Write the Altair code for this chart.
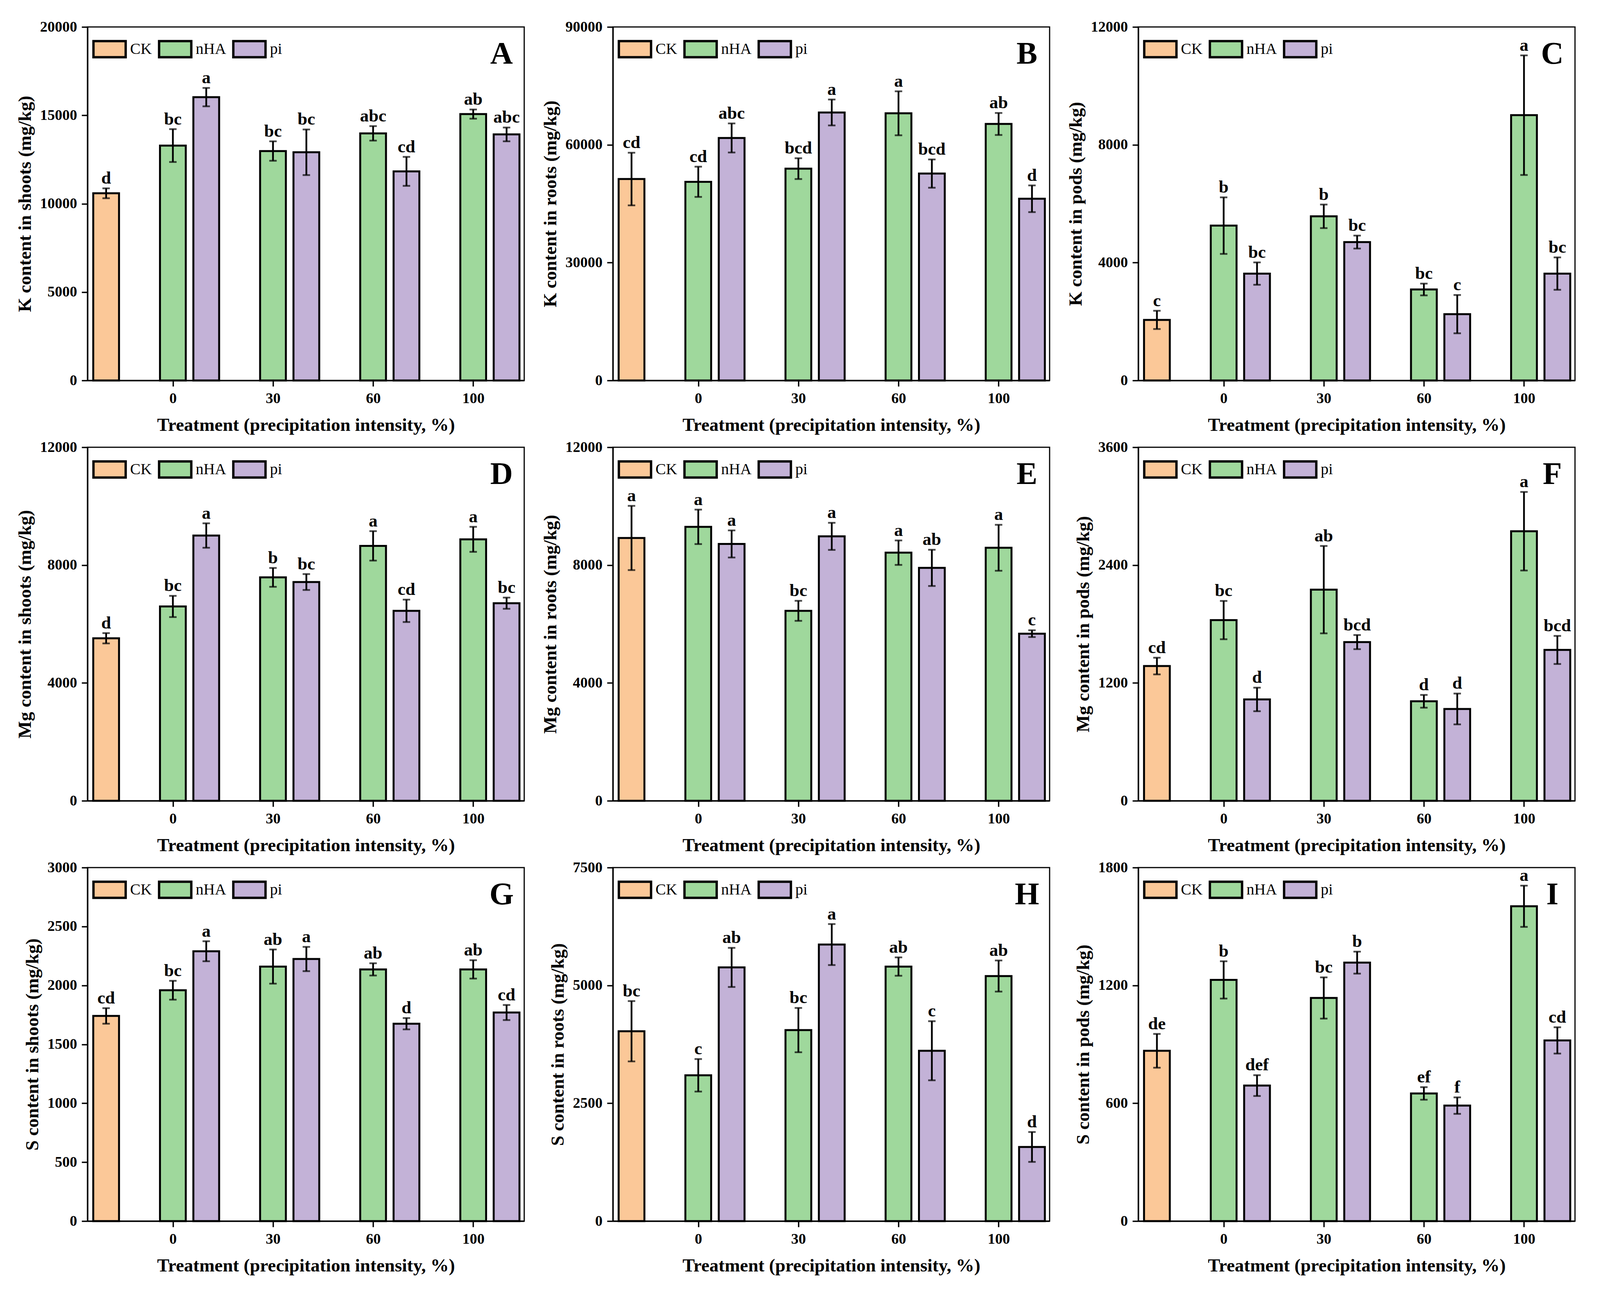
import altair as alt
import pandas as pd

series = ["CK", "nHA", "pi"]
colors = ["#FBC898", "#9FD89C", "#C3B2D7"]
groups = ["0", "30", "60", "100"]
x_title = "Treatment (precipitation intensity, %)"

letters_panel = ["A", "B", "C", "D", "E", "F", "G", "H", "I"]
y_titles = [
    "K content in shoots (mg/kg)", "K content in roots (mg/kg)", "K content in pods (mg/kg)",
    "Mg content in shoots (mg/kg)", "Mg content in roots (mg/kg)", "Mg content in pods (mg/kg)",
    "S content in shoots (mg/kg)", "S content in roots (mg/kg)", "S content in pods (mg/kg)",
]
y_max = [20000, 90000, 12000, 12000, 12000, 3600, 3000, 7500, 1800]
y_step = [5000, 30000, 4000, 4000, 4000, 1200, 500, 2500, 600]

# CK mean / error
ck_mean = [10590, 51280, 2056, 5517, 8921, 1372, 1741, 4028, 867]
ck_err = [280, 6700, 310, 175, 1090, 85, 66, 640, 86]
ck_sig = ["d", "cd", "c", "d", "a", "cd", "cd", "bc", "de"]

# nHA means / errors (0, 30, 60, 100)
nha_mean = [
    [13290, 12980, 13980, 15070],
    [50580, 53930, 68020, 65300],
    [5256, 5572, 3088, 9005],
    [6596, 7583, 8653, 8875],
    [9299, 6448, 8422, 8588],
    [1840, 2150, 1013, 2745],
    [1959, 2160, 2136, 2136],
    [3093, 4052, 5400, 5199],
    [1228, 1136, 650, 1603],
]
nha_err = [
    [930, 550, 410, 260],
    [3850, 2650, 5600, 2800],
    [960, 400, 200, 2030],
    [360, 320, 500, 425],
    [585, 340, 415, 780],
    [195, 445, 65, 400],
    [80, 145, 52, 78],
    [345, 470, 195, 330],
    [95, 105, 32, 105],
]
nha_sig = [
    ["bc", "bc", "abc", "ab"],
    ["cd", "bcd", "a", "ab"],
    ["b", "b", "bc", "a"],
    ["bc", "b", "a", "a"],
    ["a", "bc", "a", "a"],
    ["bc", "ab", "d", "a"],
    ["bc", "ab", "ab", "ab"],
    ["c", "bc", "ab", "ab"],
    ["b", "bc", "ef", "a"],
]

# pi means / errors (0, 30, 60, 100)
pi_mean = [
    [16030, 12910, 11830, 13920],
    [61740, 68230, 52670, 46260],
    [3628, 4698, 2251, 3628],
    [9004, 7426, 6448, 6707],
    [8718, 8976, 7906, 5673],
    [1032, 1616, 935, 1536],
    [2290, 2224, 1675, 1770],
    [5382, 5867, 3614, 1573],
    [690, 1316, 588, 920],
]
pi_err = [
    [520, 1290, 820, 390],
    [3700, 3300, 3600, 3400],
    [380, 220, 650, 550],
    [415, 270, 380, 190],
    [460, 460, 615, 115],
    [120, 72, 157, 143],
    [85, 103, 48, 64],
    [415, 435, 627, 317],
    [53, 56, 42, 67],
]
pi_sig = [
    ["a", "bc", "cd", "abc"],
    ["abc", "a", "bcd", "d"],
    ["bc", "bc", "c", "bc"],
    ["a", "bc", "cd", "bc"],
    ["a", "a", "ab", "c"],
    ["d", "bcd", "d", "bcd"],
    ["a", "a", "d", "cd"],
    ["ab", "a", "c", "d"],
    ["def", "b", "f", "cd"],
]

W, H = 1118, 905
FONT = "Liberation Serif"
SLOT = 1.0 / 3.0  # offset of the pi bar / CK bar within the group layout


def build_table(k):
    rows = [dict(series="CK", pos=SLOT, mean=ck_mean[k], err=ck_err[k], sig=ck_sig[k])]
    for i, g in enumerate(groups):
        rows.append(dict(series="nHA", pos=i + 1, mean=nha_mean[k][i], err=nha_err[k][i], sig=nha_sig[k][i]))
        rows.append(dict(series="pi", pos=i + 1 + SLOT, mean=pi_mean[k][i], err=pi_err[k][i], sig=pi_sig[k][i]))
    df = pd.DataFrame(rows)
    df["lo"] = df["mean"] - df["err"]
    df["hi"] = df["mean"] + df["err"]
    return df


label_expr = "{" + ",".join(f"'{i + 1}':'{g}'" for i, g in enumerate(groups)) + "}[datum.value]"


def make_panel(k):
    df = build_table(k)
    xs = alt.Scale(domain=[1.0 / 6.0, 4.49], nice=False, zero=False)
    ys = alt.Scale(domain=[0, y_max[k]], nice=False)
    yvals = list(range(0, y_max[k] + 1, y_step[k]))
    xaxis = alt.Axis(values=[1, 2, 3, 4], labelExpr=label_expr, labelFlush=False, title=x_title)
    yaxis = alt.Axis(values=yvals, format="d", title=y_titles[k])
    x = alt.X("pos:Q", scale=xs, axis=xaxis, title=x_title)

    base = alt.Chart(df)
    bars = base.mark_bar(size=66, stroke="black", strokeWidth=5, opacity=1).encode(
        x=x,
        y=alt.Y("mean:Q", scale=ys, axis=yaxis, title=y_titles[k]),
        color=alt.Color("series:N", scale=alt.Scale(domain=series, range=colors),
                        legend=alt.Legend(title=None)),
    )
    rule = base.mark_rule(color="black", strokeWidth=4.5).encode(
        x=x,
        y=alt.Y("lo:Q", scale=ys, axis=yaxis, title=y_titles[k]),
        y2="hi:Q",
    )
    cap_lo = base.mark_tick(color="black", orient="horizontal", size=19, thickness=4.5).encode(
        x=x, y=alt.Y("lo:Q", scale=ys, axis=yaxis, title=y_titles[k])
    )
    cap_hi = base.mark_tick(color="black", orient="horizontal", size=19, thickness=4.5).encode(
        x=x, y=alt.Y("hi:Q", scale=ys, axis=yaxis, title=y_titles[k])
    )
    sig = base.mark_text(font=FONT, fontSize=45, fontWeight="bold", baseline="alphabetic",
                         dy=-12, color="black").encode(
        x=x, y=alt.Y("hi:Q", scale=ys, axis=yaxis, title=y_titles[k]), text="sig:N"
    )
    tag = alt.Chart(pd.DataFrame({"t": [letters_panel[k]]})).mark_text(
        font=FONT, fontSize=80, fontWeight="bold", align="center", baseline="alphabetic", color="black"
    ).encode(x=alt.value(W - 58), y=alt.value(94), text="t:N")

    return alt.layer(bars, rule, cap_lo, cap_hi, sig, tag).properties(width=W, height=H)


panels = [make_panel(k) for k in range(9)]

chart = (
    alt.concat(*panels, columns=3, spacing={"row": 11, "column": 39})
    .resolve_scale(color="independent")
    .properties(padding={"left": 30, "top": 40, "right": 10, "bottom": 10})
    .configure_view(stroke="black", strokeWidth=3)
    .configure_axis(
        labelFont=FONT, labelFontSize=38, labelFontWeight="bold", labelColor="black",
        titleFont=FONT, titleFontSize=47, titleFontWeight="bold", titleColor="black",
        domainColor="black", domainWidth=3.5, tickColor="black", tickWidth=3.5, tickSize=15,
        grid=False, labelPadding=12,
    )
    .configure_axisX(titlePadding=26)
    .configure_axisY(titlePadding=14)
    .configure_legend(
        orient="top-left", offset=12, padding=0, direction="horizontal",
        labelFont=FONT, labelFontSize=40, labelFontWeight="normal", labelColor="black",
        symbolType="M-1,-0.5H1V0.5H-1Z", symbolSize=6800,
        symbolStrokeColor="black", symbolStrokeWidth=6, symbolOpacity=1,
        labelOffset=8, columnPadding=6,
    )
)

chart.save("out.html", embed_options={"renderer": "svg", "actions": False})
